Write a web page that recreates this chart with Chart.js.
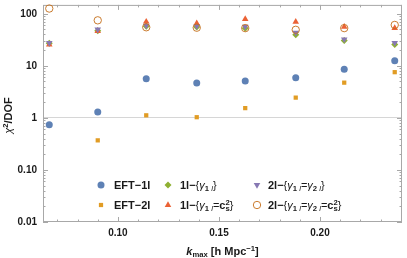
<!DOCTYPE html>
<html>
<head>
<meta charset="utf-8">
<script src="https://cdn.jsdelivr.net/npm/chart.js@4.4.1/dist/chart.umd.min.js"></script>
<style>
  html, body { margin: 0; padding: 0; background: #fff; }
</style>
</head>
<body>
<canvas id="chi2" width="407" height="258"></canvas>
<script>
// k_max values and chi^2/DOF for each fit
const kMax = [0.066, 0.090, 0.114, 0.139, 0.163, 0.188, 0.212, 0.237];
const eft1l = [0.74, 1.30, 5.65, 4.68, 5.1, 5.9, 8.6, 12.5];
const eft2l = [null, 0.37, 1.12, 1.03, 1.54, 2.45, 4.75, 7.55];
const oneLoopGamma = [27, 47, 57.6, 55.9, 52.8, 39.6, 30.5, 25.7];
const oneLoopGammaCs = [25.5, 46.5, 70.4, 65.7, 79, 70, 56, 53];
const twoLoopGamma = [27.5, 50, 59.3, 57.6, 56.6, 43.2, 32.3, 27.7];
const twoLoopGammaCs = [126, 74.8, 55, 54, 53, 49.2, 53, 61];

const yTickLabels = ['0.01', '0.10', '1', '10', '100'];
const xTickLabels = ['0.10', '0.15', '0.20'];

// labels as rich-text runs: [text, style]
const legendLabels = [
  [['EFT−1l', 'b']],
  [['EFT−2l', 'b']],
  [['1l−', 'b'], ['{', 'r'], ['γ', 'i'], ['1', 'b sub'], [' l', 'i sub'], ['}', 'r']],
  [['1l−', 'b'], ['{', 'r'], ['γ', 'i'], ['1', 'b sub'], [' l', 'i sub'], ['=', 'r'], ['c', 'b'], ['2|s', 'b stack'], ['}', 'r']],
  [['2l−', 'b'], ['{', 'r'], ['γ', 'i'], ['1', 'b sub'], [' l', 'i sub'], ['=', 'r'], ['γ', 'i'], ['2', 'b sub'], [' l', 'i sub'], ['}', 'r']],
  [['2l−', 'b'], ['{', 'r'], ['γ', 'i'], ['1', 'b sub'], [' l', 'i sub'], ['=', 'r'], ['γ', 'i'], ['2', 'b sub'], [' l', 'i sub'], ['=', 'r'], ['c', 'b'], ['2|s', 'b stack'], ['}', 'r']]
];
const xTitle = [['k', 'b i'], ['max', 'b sub'], [' [h Mpc', 'b'], ['−1', 'b sup'], [']', 'b']];
const yTitle = [['χ', 'i'], ['2', 'b sup'], ['/DOF', 'b']];

const FONT = '"Liberation Sans", Arial, sans-serif';

function segFont(tok, size) {
  const small = tok.includes('sub') || tok.includes('sup') || tok.includes('stack');
  const px = small ? size * 0.7 : size;
  return (tok.includes('i') ? 'italic ' : '') + (tok.includes('b') ? 'bold ' : '') + px.toFixed(1) + 'px ' + FONT;
}

function richRun(ctx, segs, size, x, y, draw) {
  let cx = x;
  for (const [text, style] of segs) {
    const tok = style.split(' ');
    ctx.font = segFont(tok, size);
    if (tok.includes('stack')) {
      const [sup, sub] = text.split('|');
      const w = Math.max(ctx.measureText(sup).width, ctx.measureText(sub).width);
      if (draw) {
        ctx.fillText(sup, cx, y - size * 0.4);
        ctx.fillText(sub, cx, y + size * 0.22);
      }
      cx += w;
    } else {
      const dy = tok.includes('sub') ? size * 0.22 : (tok.includes('sup') ? -size * 0.4 : 0);
      if (draw) ctx.fillText(text, cx, y + dy);
      cx += ctx.measureText(text).width;
    }
  }
  return cx - x;
}

const xTicks = [];
for (let i = 7; i <= 24; i++) xTicks.push(i / 100);
const yTicks = [];
for (let e = -2; e <= 2; e++) {
  for (let m = 1; m <= 9; m++) {
    const v = m * Math.pow(10, e);
    if (v <= 148) yTicks.push(v);
  }
}

function isDecade(v) {
  const l = Math.log10(v);
  return Math.abs(l - Math.round(l)) < 1e-6;
}

function pts(vals) {
  return kMax.map((k, i) => ({ x: k, y: vals[i] }));
}

const frameAndLegend = {
  id: 'frameAndLegend',
  beforeDatasetsDraw(chart) {
    const { ctx, chartArea: a, scales } = chart;
    ctx.save();
    ctx.strokeStyle = '#a8a8a8';
    ctx.lineWidth = 1;
    ctx.strokeRect(a.left + 0.5, a.top + 0.5, a.right - a.left - 1, a.bottom - a.top - 1);
    ctx.beginPath();
    for (const t of scales.y.ticks) {
      const py = Math.round(scales.y.getPixelForValue(t.value)) + 0.5;
      const len = isDecade(t.value) ? 5 : 2.5;
      ctx.moveTo(a.left, py); ctx.lineTo(a.left + len, py);
      ctx.moveTo(a.right, py); ctx.lineTo(a.right - len, py);
    }
    for (const t of scales.x.ticks) {
      const px = Math.round(scales.x.getPixelForValue(t.value)) + 0.5;
      const len = xTickLabels.includes(t.value.toFixed(2)) ? 5 : 2.5;
      ctx.moveTo(px, a.bottom); ctx.lineTo(px, a.bottom - len);
      ctx.moveTo(px, a.top); ctx.lineTo(px, a.top + len);
    }
    ctx.stroke();
    ctx.restore();
  },
  afterDraw(chart) {
    const { ctx, chartArea: a } = chart;
    ctx.save();
    ctx.fillStyle = '#1a1a1a';
    ctx.textAlign = 'left';
    ctx.textBaseline = 'alphabetic';

    // axis titles
    const xw = richRun(ctx, xTitle, 11, 0, 0, false);
    richRun(ctx, xTitle, 11, (a.left + a.right) / 2 - xw / 2, 255, true);
    ctx.save();
    ctx.translate(8, (a.top + a.bottom) / 2 + 2);
    ctx.rotate(-Math.PI / 2);
    const yw = richRun(ctx, yTitle, 11, 0, 0, false);
    richRun(ctx, yTitle, 11, -yw / 2, 4, true);
    ctx.restore();

    // legend, three columns by two rows
    const markX = [101, 168, 257];
    const textX = [114, 180, 268];
    const rowY = [185, 205];
    chart.data.datasets.forEach((ds, i) => {
      const col = Math.floor(i / 2), row = i % 2;
      ctx.save();
      ctx.fillStyle = ds.backgroundColor;
      ctx.strokeStyle = ds.borderColor;
      ctx.lineWidth = ds.pointBorderWidth;
      Chart.helpers.drawPoint(ctx, {
        pointStyle: ds.pointStyle,
        radius: ds.pointRadius,
        rotation: ds.pointRotation || 0,
        borderWidth: ds.pointBorderWidth
      }, markX[col], rowY[row]);
      ctx.restore();
      richRun(ctx, legendLabels[i], 11, textX[col], rowY[row] + 4, true);
    });
    ctx.restore();
  }
};

const series = [
  { data: eft1l, color: '#5E81B5', style: 'circle', r: 3.5 },
  { data: eft2l, color: '#E19C24', style: 'rect', r: 3.0 },
  { data: oneLoopGamma, color: '#8FB032', style: 'rectRot', r: 3.5 },
  { data: oneLoopGammaCs, color: '#EB6235', style: 'triangle', r: 3.8 },
  { data: twoLoopGamma, color: '#8778B3', style: 'triangle', r: 3.8, rot: 180 },
  { data: twoLoopGammaCs, color: '#C56E1A', style: 'circle', r: 3.7, open: true }
];

new Chart(document.getElementById('chi2'), {
  type: 'scatter',
  data: {
    datasets: series.map((s, i) => ({
      data: pts(s.data),
      pointStyle: s.style,
      pointRadius: s.r,
      pointRotation: s.rot || 0,
      backgroundColor: s.open ? 'rgba(0,0,0,0)' : s.color,
      borderColor: s.color,
      pointBorderWidth: s.open ? 0.9 : 0,
      showLine: false,
      clip: false,
      order: series.length - i
    }))
  },
  options: {
    responsive: false,
    devicePixelRatio: 1,
    animation: false,
    layout: { padding: { left: 0, right: 5, top: 0, bottom: 0 } },
    plugins: { legend: { display: false }, tooltip: { enabled: false } },
    scales: {
      x: {
        type: 'linear',
        min: 0.0629,
        max: 0.2406,
        afterBuildTicks: s => { s.ticks = xTicks.map(v => ({ value: v })); },
        afterFit: s => { s.height = 36; s.paddingLeft = 0; s.paddingRight = 0; },
        grid: { display: false, drawTicks: false },
        border: { display: false },
        ticks: {
          autoSkip: false,
          maxRotation: 0,
          padding: 5,
          color: '#1a1a1a',
          font: { family: FONT, size: 10, weight: 'bold' },
          callback: v => { const s = Number(v).toFixed(2); return xTickLabels.includes(s) ? s : ''; }
        }
      },
      y: {
        type: 'logarithmic',
        min: 0.01,
        max: 148,
        afterBuildTicks: s => { s.ticks = yTicks.map(v => ({ value: v })); },
        afterFit: s => { s.width = 43; s.paddingTop = 0; s.paddingBottom = 0; },
        grid: {
          drawTicks: false,
          color: c => (c.tick && Math.abs(c.tick.value - 1) < 1e-9 ? '#d6d6d6' : 'rgba(0,0,0,0)')
        },
        border: { display: false },
        ticks: {
          autoSkip: false,
          padding: 6,
          color: '#1a1a1a',
          font: { family: FONT, size: 10, weight: 'bold' },
          callback: v => (isDecade(v) ? yTickLabels[Math.round(Math.log10(v)) + 2] : '')
        }
      }
    }
  },
  plugins: [frameAndLegend]
});
</script>
</body>
</html>
